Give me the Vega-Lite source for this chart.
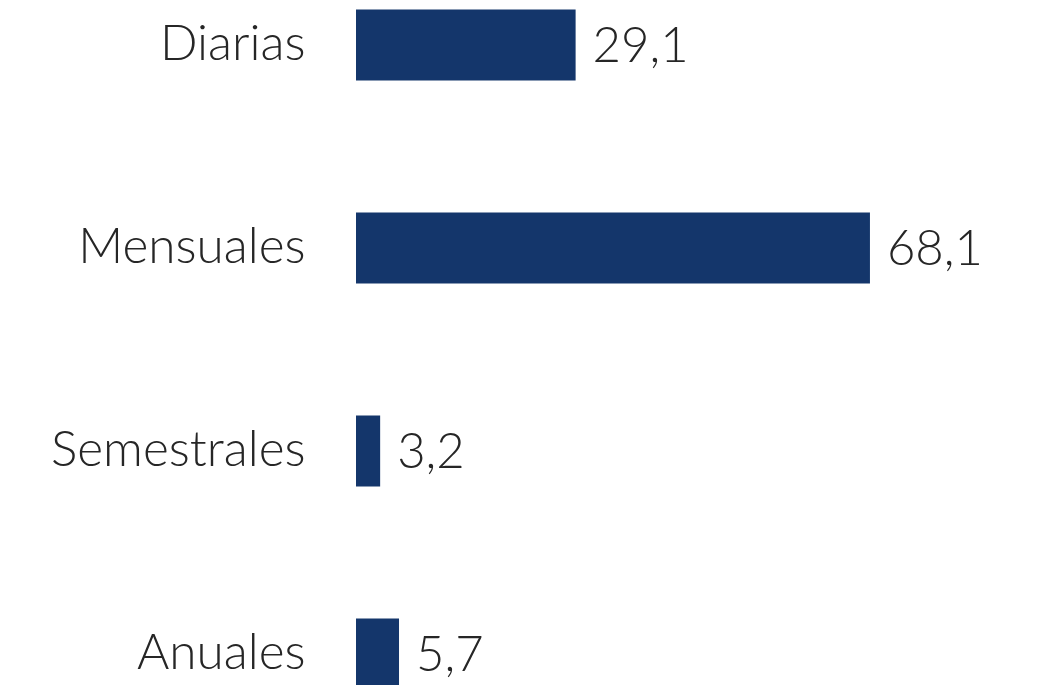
{
  "$schema": "https://vega.github.io/schema/vega-lite/v6.json",
  "autosize": {"type": "none"},
  "padding": {"left": 356, "top": 0, "right": 0, "bottom": 0},
  "width": 683,
  "height": 699,
  "background": "white",
  "data": {"values": [
    {"categoria": "Diarias", "valor": 29.1},
    {"categoria": "Mensuales", "valor": 68.1},
    {"categoria": "Semestrales", "valor": 3.2},
    {"categoria": "Anuales", "valor": 5.7}
  ]},
  "encoding": {
    "y": {"field": "categoria", "type": "nominal", "sort": null,
      "scale": {"paddingInner": 0.65, "paddingOuter": 0.047},
      "axis": {"title": null, "domain": false, "ticks": false, "labelPadding": 51,
        "labelFont": "Lato", "labelFontWeight": 300, "labelFontSize": 49.5, "labelColor": "#262626", "labelLimit": 0}},
    "x": {"field": "valor", "type": "quantitative", "scale": {"domain": [0, 90.5], "nice": false, "zero": true}, "axis": null}
  },
  "layer": [
    {"mark": {"type": "bar", "color": "#14366B"}},
    {"mark": {"type": "text", "align": "left", "baseline": "middle", "dx": 17, "dy": 2, "font": "Lato", "fontWeight": 300, "fontSize": 49, "color": "#262626"},
     "encoding": {"text": {"field": "valor", "type": "quantitative", "format": ".1f"}}}
  ],
  "config": {
    "view": {"stroke": null},
    "locale": {"number": {"decimal": ",", "thousands": ".", "grouping": [3], "currency": ["", " €"]}}
  }
}
